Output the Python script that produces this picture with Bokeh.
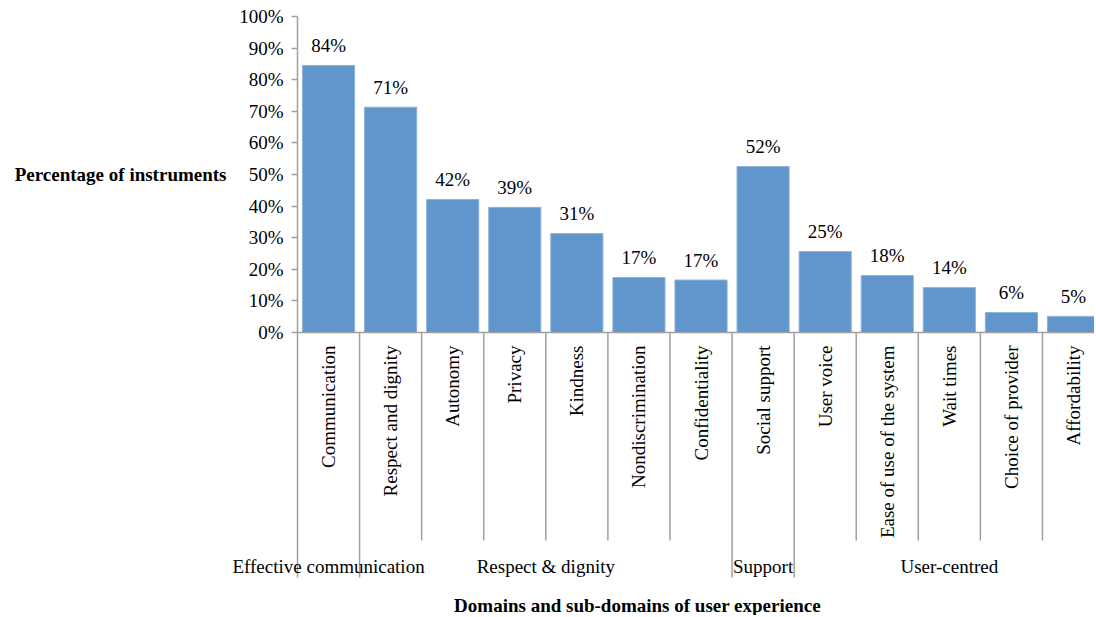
import math
from bokeh.plotting import figure
from bokeh.models import Range1d, ColumnDataSource, PrintfTickFormatter, FixedTicker
from bokeh.core.properties import value
from bokeh.embed import file_html
from bokeh.resources import INLINE

# ---- data ----
categories = ["Communication", "Respect and dignity", "Autonomy", "Privacy", "Kindness",
              "Nondiscrimination", "Confidentiality", "Social support", "User voice",
              "Ease of use of the system", "Wait times", "Choice of provider", "Affordability"]
percentages = [84.5, 71.3, 42.1, 39.6, 31.3, 17.4, 16.6, 52.5, 25.6, 18.0, 14.2, 6.3, 5.1]
bar_labels = ["84%", "71%", "42%", "39%", "31%", "17%", "17%", "52%", "25%", "18%", "14%", "6%", "5%"]
groups = ["Effective communication", "Respect & dignity", "Support", "User-centred"]
group_sizes = [1, 6, 1, 5]
y_ticks = [0, 10, 20, 30, 40, 50, 60, 70, 80, 90, 100]

FONT = "Liberation Serif"
FS = "19px"
BAR = "#6096cc"
GREY = "#a0a0a0"
PX = 3.16      # pixels per percentage unit
CW = 62.08     # pixels per category
X0, Y0 = 297, 332   # page position of the origin

W, H = 1094, 615
p = figure(width=W, height=H, output_backend="svg", toolbar_location=None,
           x_axis_location=None, min_border_left=0, min_border_right=0,
           min_border_top=0, min_border_bottom=0)
p.x_range = Range1d(-X0 / CW, (W - X0) / CW)
p.y_range = Range1d(-(H - Y0) / PX, Y0 / PX)
p.outline_line_color = None
p.grid.visible = False
p.background_fill_color = "white"
p.border_fill_color = "white"

def py(page_y):
    return (Y0 - page_y) / PX

xs = [i + 0.5 for i in range(len(categories))]
src = ColumnDataSource(dict(x=xs, top=percentages, lab=bar_labels, cat=categories,
                            ly=[v + 20 / PX for v in percentages]))
p.vbar(x="x", top="top", bottom=0, width=0.84, source=src, fill_color=BAR,
       line_color="#8db2da", line_width=1)
p.text(x="x", y="ly", text="lab", source=src, text_align="center", text_baseline="middle",
       text_font=value(FONT), text_font_size=FS, text_color="black")

# category labels (rotated)
p.text(x="x", y=py(345), text="cat", source=src, angle=math.pi / 2,
       text_align="right", text_baseline="middle",
       text_font=value(FONT), text_font_size=FS, text_color="black")

# baseline
p.segment(x0=[0], y0=[0], x1=[20], y1=[0], line_color=GREY, line_width=1.5)

# dividers
bounds = [0]
for s in group_sizes:
    bounds.append(bounds[-1] + s)
div_x, div_y = [], []
for i in range(len(categories)):
    div_x.append(i)
    div_y.append(py(577) if i in bounds else py(540))
p.segment(x0=div_x, y0=[0] * len(div_x), x1=div_x, y1=div_y, line_color=GREY, line_width=1.5)

# group labels
gx = [(bounds[k] + bounds[k + 1]) / 2 for k in range(len(groups))]
p.text(x=gx, y=[py(566)] * len(groups), text=groups, text_align="center",
       text_baseline="middle", text_font=value(FONT), text_font_size=FS, text_color="black")

# axis titles
p.text(x=[(637 - X0) / CW], y=[py(605)], text=["Domains and sub-domains of user experience"],
       text_align="center", text_baseline="middle", text_font=value(FONT), text_font_size=FS,
       text_font_style="bold", text_color="black")
p.text(x=[(226 - X0) / CW], y=[50], text=["Percentage of instruments"],
       text_align="right", text_baseline="middle", text_font=value(FONT), text_font_size=FS,
       text_font_style="bold", text_color="black")

# y axis drawn at x = 0
ax = p.yaxis[0]
ax.fixed_location = 0
ax.bounds = (0, 100)
ax.ticker = FixedTicker(ticks=y_ticks)
ax.formatter = PrintfTickFormatter(format="%d%%")
ax.major_label_text_font = FONT
ax.major_label_text_font_size = FS
ax.major_label_text_color = "black"
ax.axis_line_color = GREY
ax.axis_line_width = 1.5
ax.major_tick_line_color = GREY
ax.major_tick_line_width = 1.5
ax.major_tick_out = 6
ax.major_tick_in = 0
ax.minor_tick_line_color = None
ax.major_label_standoff = 8

open("out.html", "w").write(file_html(p, INLINE))
